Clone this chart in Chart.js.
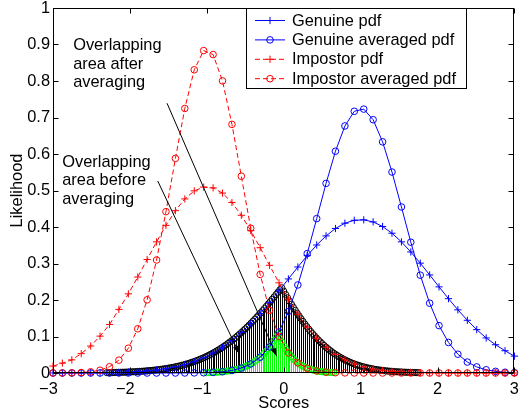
<!DOCTYPE html>
<html><head><meta charset="utf-8">
<script src="https://cdn.jsdelivr.net/npm/chart.js@4.4.0/dist/chart.umd.min.js"></script>
<style>html,body{margin:0;padding:0;background:#fff;}canvas{display:block;}</style>
</head><body>
<canvas id="c" width="519" height="417"></canvas>
<script>
// ---- data ----
const scores = [-3.000,-2.878,-2.755,-2.633,-2.510,-2.388,-2.265,-2.143,-2.020,-1.898,-1.776,-1.653,-1.531,-1.408,-1.286,-1.163,-1.041,-0.918,-0.796,-0.673,-0.551,-0.429,-0.306,-0.184,-0.061,0.061,0.184,0.306,0.429,0.551,0.673,0.796,0.918,1.041,1.163,1.286,1.408,1.531,1.653,1.776,1.898,2.020,2.143,2.265,2.388,2.510,2.633,2.755,2.878,3.000];
const genuinePdf = [0.0001,0.0001,0.0002,0.0003,0.0005,0.0007,0.0011,0.0018,0.0027,0.0040,0.0059,0.0085,0.0121,0.0169,0.0232,0.0314,0.0418,0.0547,0.0703,0.0891,0.1108,0.1355,0.1632,0.1932,0.2251,0.2577,0.2904,0.3216,0.3506,0.3756,0.3959,0.4104,0.4184,0.4196,0.4139,0.4014,0.3830,0.3593,0.3316,0.3009,0.2687,0.2360,0.2037,0.1731,0.1444,0.1188,0.0960,0.0775,0.0610,0.0462];
const genuineAvg = [0,0,0,0,0,0,0,0,0,0,0,0,0,0,0.0001,0.0003,0.0007,0.0017,0.0035,0.0071,0.0136,0.0248,0.0432,0.0715,0.1127,0.1688,0.2412,0.3271,0.4230,0.5195,0.6076,0.6768,0.7170,0.7230,0.6939,0.6333,0.5506,0.4549,0.3583,0.2680,0.1912,0.1298,0.0837,0.0515,0.0300,0.0167,0.0088,0.0045,0.0021,0.0010];
const impostorPdf = [0.0190,0.0270,0.0360,0.0530,0.0740,0.1010,0.1330,0.1743,0.2169,0.2629,0.3109,0.3593,0.4045,0.4448,0.4769,0.4990,0.5093,0.5072,0.4929,0.4671,0.4321,0.3902,0.3433,0.2950,0.2471,0.2022,0.1611,0.1255,0.0952,0.0706,0.0511,0.0360,0.0248,0.0166,0.0109,0.0070,0.0044,0.0026,0.0016,0.0009,0.0005,0.0003,0.0001,0.0001,0,0,0,0,0,0];
const impostorAvg = [0,0.0001,0.0004,0.0012,0.0032,0.0076,0.0171,0.0352,0.0679,0.1211,0.2005,0.3096,0.4421,0.5880,0.7248,0.8307,0.8833,0.8724,0.8003,0.6812,0.5392,0.3966,0.2701,0.1714,0.1006,0.0550,0.0278,0.0131,0.0057,0.0023,0.0009,0.0003,0.0001,0,0,0,0,0,0,0,0,0,0,0,0,0,0,0,0,0];

// overlapping area before averaging (black stems)
const overlapX = [-2.300,-2.275,-2.250,-2.225,-2.200,-2.175,-2.150,-2.125,-2.100,-2.075,-2.050,-2.025,-2.000,-1.975,-1.950,-1.925,-1.900,-1.875,-1.850,-1.825,-1.800,-1.775,-1.750,-1.725,-1.700,-1.675,-1.650,-1.625,-1.600,-1.575,-1.550,-1.525,-1.500,-1.475,-1.450,-1.425,-1.400,-1.375,-1.350,-1.325,-1.300,-1.275,-1.250,-1.225,-1.200,-1.175,-1.150,-1.125,-1.100,-1.075,-1.050,-1.025,-1.000,-0.975,-0.950,-0.925,-0.900,-0.875,-0.850,-0.825,-0.800,-0.775,-0.750,-0.725,-0.700,-0.675,-0.650,-0.625,-0.600,-0.575,-0.550,-0.525,-0.500,-0.475,-0.450,-0.425,-0.400,-0.375,-0.350,-0.325,-0.300,-0.275,-0.250,-0.225,-0.200,-0.175,-0.150,-0.125,-0.100,-0.075,-0.050,-0.025,0.000,0.025,0.050,0.075,0.100,0.125,0.150,0.175,0.200,0.225,0.250,0.275,0.300,0.325,0.350,0.375,0.400,0.425,0.450,0.475,0.500,0.525,0.550,0.575,0.600,0.625,0.650,0.675,0.700,0.725,0.750,0.775,0.800,0.825,0.850,0.875,0.900,0.925,0.950,0.975,1.000,1.025,1.050,1.075,1.100,1.125,1.150,1.175,1.200,1.225,1.250,1.275,1.300,1.325,1.350,1.375,1.400,1.425,1.450,1.475,1.500,1.525,1.550,1.575,1.600,1.625,1.650,1.675,1.700,1.725,1.750];
const overlapBefore = [0.0010,0.0011,0.0012,0.0013,0.0014,0.0016,0.0017,0.0019,0.0021,0.0022,0.0024,0.0026,0.0029,0.0031,0.0034,0.0037,0.0040,0.0043,0.0047,0.0050,0.0055,0.0059,0.0064,0.0069,0.0074,0.0080,0.0086,0.0092,0.0099,0.0107,0.0115,0.0123,0.0132,0.0141,0.0151,0.0161,0.0173,0.0184,0.0197,0.0210,0.0224,0.0239,0.0254,0.0270,0.0288,0.0305,0.0324,0.0344,0.0365,0.0387,0.0409,0.0433,0.0458,0.0484,0.0511,0.0539,0.0568,0.0599,0.0631,0.0663,0.0698,0.0733,0.0770,0.0808,0.0847,0.0887,0.0930,0.0972,0.1017,0.1063,0.1110,0.1158,0.1208,0.1258,0.1310,0.1363,0.1418,0.1473,0.1530,0.1587,0.1647,0.1706,0.1767,0.1828,0.1891,0.1954,0.2019,0.2082,0.2148,0.2213,0.2280,0.2334,0.2242,0.2150,0.2061,0.1972,0.1887,0.1802,0.1720,0.1639,0.1562,0.1485,0.1412,0.1340,0.1272,0.1204,0.1140,0.1077,0.1018,0.0960,0.0906,0.0853,0.0803,0.0754,0.0708,0.0664,0.0622,0.0582,0.0544,0.0508,0.0474,0.0442,0.0412,0.0383,0.0356,0.0330,0.0306,0.0283,0.0262,0.0242,0.0224,0.0207,0.0191,0.0175,0.0161,0.0148,0.0136,0.0125,0.0114,0.0104,0.0095,0.0087,0.0080,0.0073,0.0066,0.0060,0.0055,0.0050,0.0045,0.0041,0.0037,0.0033,0.0030,0.0027,0.0024,0.0022,0.0020,0.0018,0.0016,0.0014,0.0013,0.0011,0.0010];
// overlapping area after averaging (green stems)
const overlapAvgX = [-1.000,-0.975,-0.950,-0.925,-0.900,-0.875,-0.850,-0.825,-0.800,-0.775,-0.750,-0.725,-0.700,-0.675,-0.650,-0.625,-0.600,-0.575,-0.550,-0.525,-0.500,-0.475,-0.450,-0.425,-0.400,-0.375,-0.350,-0.325,-0.300,-0.275,-0.250,-0.225,-0.200,-0.175,-0.150,-0.125,-0.100,-0.075,-0.050,-0.025,0.000,0.025,0.050,0.075,0.100,0.125,0.150,0.175,0.200,0.225,0.250,0.275,0.300,0.325,0.350,0.375,0.400,0.425,0.450,0.475,0.500,0.525,0.550,0.575,0.600,0.625,0.650];
const overlapAfter = [0.0010,0.0011,0.0013,0.0016,0.0019,0.0022,0.0025,0.0029,0.0034,0.0040,0.0046,0.0053,0.0061,0.0070,0.0081,0.0092,0.0105,0.0120,0.0137,0.0155,0.0176,0.0199,0.0225,0.0253,0.0284,0.0318,0.0357,0.0398,0.0444,0.0493,0.0548,0.0606,0.0671,0.0740,0.0815,0.0894,0.0981,0.1071,0.0955,0.0847,0.0751,0.0662,0.0583,0.0510,0.0447,0.0389,0.0339,0.0293,0.0253,0.0218,0.0187,0.0160,0.0137,0.0116,0.0099,0.0083,0.0070,0.0059,0.0049,0.0041,0.0034,0.0029,0.0024,0.0020,0.0016,0.0013,0.0011];

const xTickLabels = ['\u22123','\u22122','\u22121','0','1','2','3'];
const yTickLabels = ['0','0.1','0.2','0.3','0.4','0.5','0.6','0.7','0.8','0.9','1'];
const legendLabels = ['Genuine pdf','Genuine averaged pdf','Impostor pdf','Impostor averaged pdf'];
const noteAfterLines = ['Overlapping','area after','averaging'];
const noteBeforeLines = ['Overlapping','area before','averaging'];
const xTitle = 'Scores';
const yTitle = 'Likelihood';

// ---- styling / layout ----
const FONT = "'Liberation Sans', Arial, Helvetica, sans-serif";
const FS = 16.4;
const BLUE = '#0000ff', RED = '#ff0000', GREEN = '#00ff00', BLACK = '#000000';
const CLEAR = 'rgba(0,0,0,0)';
const annot = {
  after: {at: [-2.738, 0.897], lines: noteAfterLines, arrow: [[-1.517, 0.739], [-0.091, 0.046]]},
  before: {at: [-2.88, 0.577], lines: noteBeforeLines, arrow: [[-1.638, 0.526], [-0.578, 0.053]]}
};

const pts = (xs, ys) => xs.map((x, i) => ({x: x, y: ys[i]}));

function curve(label, ys, color, dashed, marker, order) {
  return {
    label: label, data: pts(scores, ys), showLine: true,
    borderColor: color, borderWidth: 1, borderDash: dashed ? [5, 3] : [],
    pointStyle: marker, pointRadius: marker === 'cross' ? 3.6 : 3.3,
    pointBorderColor: color, pointBackgroundColor: CLEAR, pointBorderWidth: 1,
    pointHoverRadius: 0, order: order, clip: false, tension: 0,
    _legend: {color: color, dashed: dashed, marker: marker}
  };
}
function stems(label, xs, ys, color, order) {
  return {
    label: label, data: pts(xs, ys), showLine: false,
    pointStyle: 'circle', pointRadius: 3.1, pointBorderColor: color,
    pointBackgroundColor: CLEAR, pointBorderWidth: 1, pointHoverRadius: 0,
    order: order, clip: false, _stem: color
  };
}

const datasets = [
  curve(legendLabels[3], impostorAvg, RED, true, 'circle', 1),
  curve(legendLabels[2], impostorPdf, RED, true, 'cross', 2),
  curve(legendLabels[1], genuineAvg, BLUE, false, 'circle', 3),
  curve(legendLabels[0], genuinePdf, BLUE, false, 'cross', 4),
  stems('overlap after', overlapAvgX, overlapAfter, GREEN, 5),
  stems('overlap before', overlapX, overlapBefore, BLACK, 6)
];

const stemPlugin = {
  id: 'stems',
  beforeDatasetsDraw(chart) {
    const ctx = chart.ctx, y0 = chart.scales.y.getPixelForValue(0);
    ctx.save();
    ctx.lineWidth = 1;
    [5, 4].forEach(di => {
      const ds = chart.data.datasets[di];
      const meta = chart.getDatasetMeta(di);
      ctx.strokeStyle = ds._stem;
      ctx.beginPath();
      meta.data.forEach(el => {
        const x = Math.round(el.x) + 0.5;
        ctx.moveTo(x, y0);
        ctx.lineTo(x, el.y);
      });
      ctx.stroke();
    });
    ctx.restore();
  }
};

function drawArrow(ctx, x1, y1, x2, y2) {
  ctx.beginPath();
  ctx.moveTo(x1, y1); ctx.lineTo(x2, y2); ctx.stroke();
  const a = Math.atan2(y2 - y1, x2 - x1), L = 8, W = 3;
  ctx.beginPath();
  ctx.moveTo(x2, y2);
  ctx.lineTo(x2 - L * Math.cos(a) + W * Math.sin(a), y2 - L * Math.sin(a) - W * Math.cos(a));
  ctx.lineTo(x2 - L * Math.cos(a) - W * Math.sin(a), y2 - L * Math.sin(a) + W * Math.cos(a));
  ctx.closePath(); ctx.fill();
}

const decorPlugin = {
  id: 'decor',
  afterDatasetsDraw(chart) {
    const ctx = chart.ctx, xs = chart.scales.x, ys = chart.scales.y;
    const a = chart.chartArea;
    ctx.save();
    // annotations
    ctx.fillStyle = BLACK; ctx.strokeStyle = BLACK; ctx.lineWidth = 1;
    ctx.font = FS + 'px ' + FONT; ctx.textBaseline = 'middle'; ctx.textAlign = 'left';
    Object.values(annot).forEach(n => {
      const px = xs.getPixelForValue(n.at[0]), py = ys.getPixelForValue(n.at[1]);
      n.lines.forEach((t, i) => ctx.fillText(t, px, py + i * 18.5));
      drawArrow(ctx, xs.getPixelForValue(n.arrow[0][0]), ys.getPixelForValue(n.arrow[0][1]),
                xs.getPixelForValue(n.arrow[1][0]), ys.getPixelForValue(n.arrow[1][1]));
    });
    // frame + inward ticks
    ctx.strokeStyle = BLACK; ctx.lineWidth = 1;
    const L = Math.round(a.left) + 0.5, R = Math.round(a.right) - 0.5;
    const T = Math.round(a.top) + 0.5, B = Math.round(a.bottom) - 0.5;
    ctx.strokeRect(L, T, R - L, B - T);
    ctx.beginPath();
    xs.ticks.forEach(t => {
      const x = Math.round(xs.getPixelForValue(t.value)) + 0.5;
      ctx.moveTo(x, B); ctx.lineTo(x, B - 5);
      ctx.moveTo(x, T); ctx.lineTo(x, T + 5);
    });
    ys.ticks.forEach(t => {
      const y = Math.round(ys.getPixelForValue(t.value)) + 0.5;
      ctx.moveTo(L, y); ctx.lineTo(L + 5, y);
      ctx.moveTo(R, y); ctx.lineTo(R - 5, y);
    });
    ctx.stroke();
    // legend
    const box = {l: 246.5, t: 8.5, r: 466.5, b: 88.5};
    ctx.fillStyle = '#ffffff';
    ctx.fillRect(box.l, box.t, box.r - box.l, box.b - box.t);
    ctx.strokeRect(box.l, box.t, box.r - box.l, box.b - box.t);
    [3, 2, 1, 0].forEach((di, i) => {
      const ds = chart.data.datasets[di], lg = ds._legend;
      const y = 20.5 + i * 19.4;
      ctx.strokeStyle = lg.color; ctx.lineWidth = 1;
      ctx.setLineDash(lg.dashed ? [5, 3] : []);
      ctx.beginPath(); ctx.moveTo(255, y); ctx.lineTo(285, y); ctx.stroke();
      ctx.setLineDash([]);
      ctx.beginPath();
      if (lg.marker === 'cross') {
        ctx.moveTo(270 - 3.6, y); ctx.lineTo(270 + 3.6, y);
        ctx.moveTo(270, y - 3.6); ctx.lineTo(270, y + 3.6);
      } else {
        ctx.arc(270, y, 3.3, 0, Math.PI * 2);
      }
      ctx.stroke();
      ctx.fillStyle = BLACK;
      ctx.fillText(ds.label, 292, y + 0.5);
    });
    ctx.restore();
  }
};

Chart.defaults.font.family = FONT;
Chart.defaults.font.size = FS;
Chart.defaults.color = BLACK;

new Chart(document.getElementById('c'), {
  type: 'scatter',
  data: {datasets: datasets},
  options: {
    responsive: false, animation: false, devicePixelRatio: 1,
    layout: {padding: {top: 8, right: 2, left: 0, bottom: 0}},
    plugins: {legend: {display: false}, tooltip: {enabled: false}},
    events: [],
    scales: {
      x: {
        type: 'linear', min: -3, max: 3, offset: false,
        grid: {display: false, drawTicks: false}, border: {display: false},
        ticks: {stepSize: 1, padding: 7, maxRotation: 0, autoSkip: false,
          callback: (v, i) => { const s = xTickLabels[i]; return s.charAt(0) === '\u2212' ? s + '\u2007' : s; }},
        title: {display: true, text: xTitle, padding: {top: 0, bottom: 3.5}},
        afterFit: s => { s.height = 44; s.paddingLeft = 0; s.paddingRight = 0; }
      },
      y: {
        type: 'linear', min: 0, max: 1,
        grid: {display: false, drawTicks: false}, border: {display: false},
        ticks: {stepSize: 0.1, padding: 3, autoSkip: false, callback: (v, i) => yTickLabels[i]},
        title: {display: true, text: yTitle, padding: {top: 8, bottom: 0}},
        afterFit: s => { s.width = 53; s.paddingTop = 0; s.paddingBottom = 0; }
      }
    }
  },
  plugins: [stemPlugin, decorPlugin]
});
</script>
</body></html>
